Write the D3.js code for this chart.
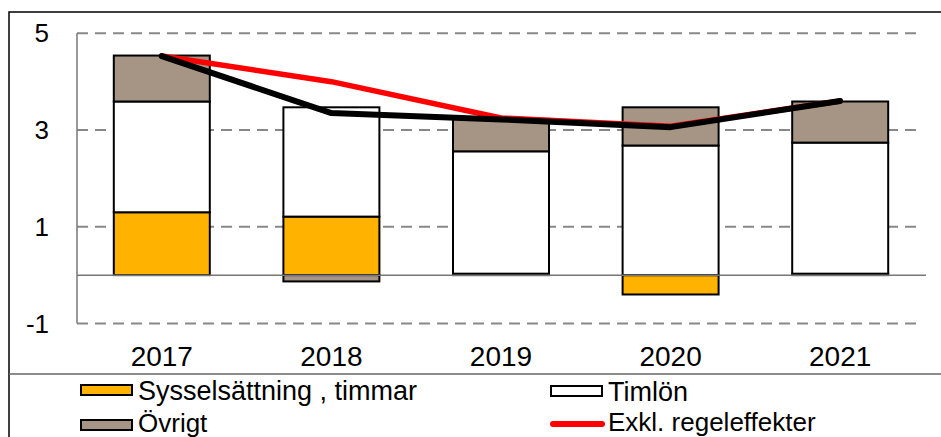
<!DOCTYPE html>
<html>
<head>
<meta charset="utf-8">
<script src="https://cdn.jsdelivr.net/npm/d3@7"></script>
<style>
  body { margin: 0; background: #fff; }
  svg { display: block; font-family: Arial, "Liberation Sans", sans-serif; }
</style>
</head>
<body>
<svg id="chart" width="941" height="437"></svg>
<script>
const years = ['2017', '2018', '2019', '2020', '2021']
const sysselsattning = [1.30, 1.21, 0.03, -0.40, 0.03]
const timlon = [2.29, 2.26, 2.53, 2.68, 2.71]
const ovrigt = [0.95, -0.13, 0.67, 0.79, 0.85]
const total = [4.53, 3.35, 3.22, 3.06, 3.60]
const exklRegel = [4.53, 4.00, 3.25, 3.08, 3.60]
const yTicks = [5, 3, 1, -1]

const seriesKeys = ['syss', 'timlon', 'ovrigt']
const colors = { syss: '#FFB300', timlon: '#FFFFFF', ovrigt: '#A69585' }

const rows = years.map((y, i) => ({
  year: y,
  syss: sysselsattning[i],
  timlon: timlon[i],
  ovrigt: ovrigt[i],
}))

const svg = d3.select('#chart')

// outer frame (top and left edges only visible)
svg.append('path')
  .attr('d', 'M9,437 V12 H941')
  .attr('fill', 'none')
  .attr('stroke', '#000')
  .attr('stroke-width', 1.5)

const x = d3.scaleBand().domain(years).range([77, 925]).paddingInner(0.434).paddingOuter(0.217)
const y = d3.scaleLinear().domain([-1, 5]).range([323.5, 33.3])

// gridlines
svg.append('g')
  .selectAll('line')
  .data(yTicks)
  .join('line')
  .attr('x1', 77)
  .attr('x2', 922)
  .attr('y1', (d) => y(d))
  .attr('y2', (d) => y(d))
  .attr('stroke', '#888')
  .attr('stroke-width', 2)
  .attr('stroke-dasharray', '11,7')

// y axis line
svg.append('line')
  .attr('x1', 77).attr('x2', 77)
  .attr('y1', y(5)).attr('y2', y(-1))
  .attr('stroke', '#777').attr('stroke-width', 1.5)

// y tick labels
svg.append('g')
  .selectAll('text')
  .data(yTicks)
  .join('text')
  .attr('x', 49)
  .attr('y', (d) => y(d) + 9)
  .attr('text-anchor', 'end')
  .attr('font-size', 26)
  .attr('fill', '#000')
  .text((d) => d)

// stacked bars
const stacked = d3.stack().keys(seriesKeys).offset(d3.stackOffsetDiverging)(rows)

svg.append('g')
  .selectAll('g')
  .data(stacked)
  .join('g')
  .attr('fill', (s) => colors[s.key])
  .selectAll('rect')
  .data((s) => s)
  .join('rect')
  .attr('x', (d) => x(d.data.year))
  .attr('width', x.bandwidth())
  .attr('y', (d) => y(Math.max(d[0], d[1])))
  .attr('height', (d) => Math.abs(y(d[0]) - y(d[1])))
  .attr('stroke', '#000')
  .attr('stroke-width', 2)

// zero line
svg.append('line')
  .attr('x1', 77).attr('x2', 926)
  .attr('y1', y(0)).attr('y2', y(0))
  .attr('stroke', '#777').attr('stroke-width', 1.5)

// lines
const line = d3.line()
  .x((d, i) => x(years[i]) + x.bandwidth() / 2)
  .y((d) => y(d))

svg.append('path')
  .datum(exklRegel)
  .attr('d', line)
  .attr('fill', 'none')
  .attr('stroke', '#FF0000')
  .attr('stroke-width', 5.5)
  .attr('stroke-linejoin', 'round')
  .attr('stroke-linecap', 'round')

svg.append('path')
  .datum(total)
  .attr('d', line)
  .attr('fill', 'none')
  .attr('stroke', '#000')
  .attr('stroke-width', 6)
  .attr('stroke-linejoin', 'round')
  .attr('stroke-linecap', 'round')

// x labels
svg.append('g')
  .selectAll('text')
  .data(years)
  .join('text')
  .attr('x', (d) => x(d) + x.bandwidth() / 2)
  .attr('y', 366)
  .attr('text-anchor', 'middle')
  .attr('font-size', 28)
  .attr('fill', '#000')
  .text((d) => d)

// legend
svg.append('line')
  .attr('x1', 9).attr('x2', 941)
  .attr('y1', 374).attr('y2', 374)
  .attr('stroke', '#666').attr('stroke-width', 1.5)

const legendItems = [
  { label: 'Sysselsättning , timmar', type: 'rect', color: colors.syss, lx: 81, ly: 390 },
  { label: 'Timlön', type: 'rect', color: colors.timlon, lx: 551, ly: 391 },
  { label: 'Övrigt', type: 'rect', color: colors.ovrigt, lx: 81, ly: 425 },
  { label: 'Exkl. regeleffekter', type: 'line', color: '#FF0000', lx: 551, ly: 424 },
]

const lg = svg.append('g')
  .selectAll('g')
  .data(legendItems)
  .join('g')
  .attr('transform', (d) => `translate(${d.lx},${d.ly})`)

lg.filter((d) => d.type === 'rect')
  .append('rect')
  .attr('x', 0).attr('y', -5)
  .attr('width', 51).attr('height', 10)
  .attr('fill', (d) => d.color)
  .attr('stroke', '#000')
  .attr('stroke-width', 2)

lg.filter((d) => d.type === 'line')
  .append('line')
  .attr('x1', 2).attr('x2', 51)
  .attr('y1', 0).attr('y2', 0)
  .attr('stroke', (d) => d.color)
  .attr('stroke-width', 6)
  .attr('stroke-linecap', 'round')

lg.append('text')
  .attr('x', 57)
  .attr('y', (d) => (d.ly > 400 ? 7 : 10))
  .attr('font-size', (d) => (d.ly > 400 ? 26 : 27))
  .attr('fill', '#000')
  .text((d) => d.label)
</script>
</body>
</html>
